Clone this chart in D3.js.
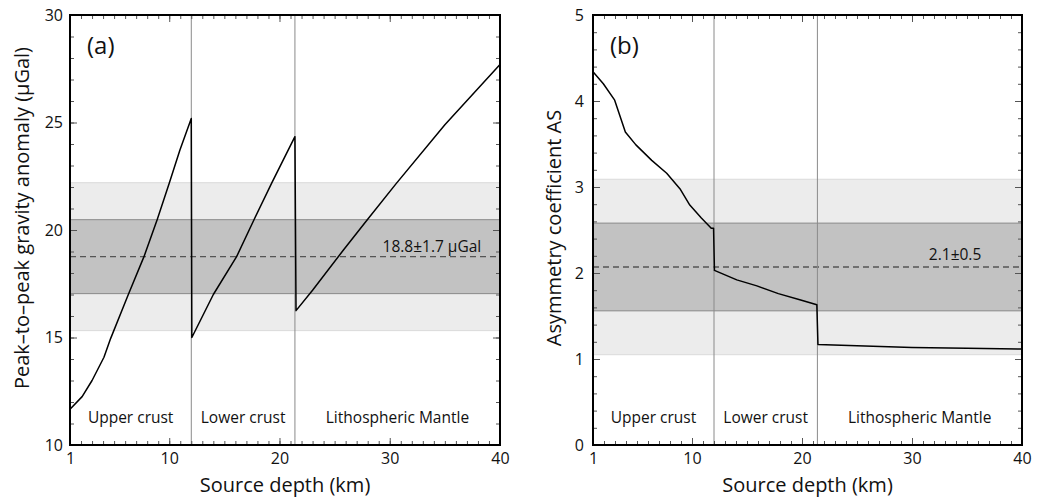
<!DOCTYPE html>
<html>
<head>
<meta charset="utf-8">
<script src="https://cdn.jsdelivr.net/npm/d3@7"></script>
<style>
  html, body { margin: 0; padding: 0; background: #fff; }
  svg { display: block; font-family: "Open Sans", "DejaVu Sans", sans-serif; }
</style>
</head>
<body>
<svg id="chart" width="1042" height="499"></svg>
<script>
// ---------- data ----------
const depthA   = [1, 2.1, 3, 4.08, 4.69, 6.29, 7.71, 8.92, 10.0, 10.97, 12.0,
                  12.05, 14.0, 16.11, 17.71, 19.28, 21.4,
                  21.5, 23, 25.8, 28, 30.6, 35, 40];
const gravityA = [11.66, 12.25, 13.0, 14.08, 14.96, 17.0, 18.76, 20.5, 22.17, 23.72, 25.19,
                  15.0, 17.0, 18.76, 20.5, 22.17, 24.34,
                  16.25, 17.2, 19.07, 20.5, 22.17, 24.9, 27.7];

const depthB = [1, 1.94, 2.97, 3.94, 4.9, 6.34, 7.7, 8.9, 9.8, 10.85, 11.75, 11.96,
                12.04, 14.07, 15.9, 17.85, 19.8, 21.35,
                21.45, 25, 30, 35, 40];
const asymB  = [4.34, 4.2, 4.01, 3.64, 3.49, 3.31, 3.16, 2.98, 2.79, 2.64, 2.52, 2.52,
                2.03, 1.92, 1.85, 1.76, 1.69, 1.63,
                1.17, 1.155, 1.135, 1.125, 1.116];

const layerBounds = [12, 21.4];
const layerNames  = ["Upper crust", "Lower crust", "Lithospheric Mantle"];
const layerRanges = [[1, 12], [12, 21.4], [21.4, 40]];

const xTickLabels = [1, 10, 20, 30, 40];
const yTicksA = [10, 15, 20, 25, 30];
const yTicksB = [0, 1, 2, 3, 4, 5];

// observed values: mean, sigma
const obsA = [18.76, 1.72];
const obsB = [2.07, 0.51];
const obsLabelA = "18.8±1.7 µGal";
const obsLabelB = "2.1±0.5";

// ---------- drawing ----------
const svg = d3.select("#chart");

function panel(opt) {
  const { left, right, top, bottom } = opt;
  const x = d3.scaleLinear().domain([1, 40]).range([left, right]);
  const y = d3.scaleLinear().domain(opt.yDomain).range([bottom, top]);
  const g = svg.append("g");

  const [m, s] = opt.obs;
  // light band (2 sigma)
  g.append("rect").attr("x", left).attr("width", right - left)
    .attr("y", y(m + 2 * s)).attr("height", y(m - 2 * s) - y(m + 2 * s))
    .attr("fill", "#ececec");
  g.selectAll(".lb").data([m + 2 * s, m - 2 * s]).join("line")
    .attr("x1", left).attr("x2", right).attr("y1", d => y(d)).attr("y2", d => y(d))
    .attr("stroke", "#dadada").attr("stroke-width", 1);
  // dark band (1 sigma)
  g.append("rect").attr("x", left).attr("width", right - left)
    .attr("y", y(m + s)).attr("height", y(m - s) - y(m + s))
    .attr("fill", "#c2c2c2");
  g.selectAll(".db").data([m + s, m - s]).join("line")
    .attr("x1", left).attr("x2", right).attr("y1", d => y(d)).attr("y2", d => y(d))
    .attr("stroke", "#8a8a8a").attr("stroke-width", 1);
  // dashed mean
  g.append("line").attr("x1", left).attr("x2", right)
    .attr("y1", y(m)).attr("y2", y(m))
    .attr("stroke", "#555").attr("stroke-width", 1.3).attr("stroke-dasharray", "6,4");

  // layer boundaries
  g.selectAll(".vb").data(layerBounds).join("line")
    .attr("x1", d => x(d)).attr("x2", d => x(d)).attr("y1", top).attr("y2", bottom)
    .attr("stroke", "#8a8a8a").attr("stroke-width", 1);

  // layer names
  g.selectAll(".ln").data(layerNames).join("text")
    .attr("x", (d, i) => (x(layerRanges[i][0]) + x(layerRanges[i][1])) / 2)
    .attr("y", bottom - 22)
    .attr("text-anchor", "middle").attr("font-size", 15.5).attr("fill", "#111")
    .text(d => d);

  // observed label
  g.append("text").attr("x", x(opt.obsLabelX)).attr("y", y(m) - opt.obsLabelDy)
    .attr("text-anchor", "end").attr("font-size", 15.5).attr("fill", "#111")
    .text(opt.obsLabel);

  // curve
  const pts = opt.xs.map((d, i) => [d, opt.ys[i]]);
  g.append("path").datum(pts)
    .attr("d", d3.line().x(d => x(d[0])).y(d => y(d[1])))
    .attr("fill", "none").attr("stroke", "#000").attr("stroke-width", 1.5)
    .attr("stroke-linejoin", "round");

  // axes (ticks inward on all four sides)
  const tickColor = "#555";
  function styleAxis(sel) {
    sel.select(".domain").remove();
    sel.selectAll(".tick line").attr("stroke", tickColor);
    sel.selectAll(".tick text").attr("fill", "#111").attr("font-size", 16)
      .attr("font-family", "\"Open Sans\", sans-serif");
  }
  // bottom
  g.append("g").attr("transform", `translate(0,${bottom})`)
    .call(d3.axisBottom(x).tickValues(d3.range(1, 41)).tickSize(-4).tickFormat(""))
    .call(styleAxis);
  g.append("g").attr("transform", `translate(0,${bottom})`)
    .call(d3.axisBottom(x).tickValues(xTickLabels).tickSize(-7).tickPadding(8).tickFormat(d3.format("d")))
    .call(styleAxis);
  // top
  g.append("g").attr("transform", `translate(0,${top})`)
    .call(d3.axisTop(x).tickValues(d3.range(1, 41)).tickSize(-4).tickFormat(""))
    .call(styleAxis);
  g.append("g").attr("transform", `translate(0,${top})`)
    .call(d3.axisTop(x).tickValues(xTickLabels).tickSize(-7).tickFormat(""))
    .call(styleAxis);
  // left
  g.append("g").attr("transform", `translate(${left},0)`)
    .call(d3.axisLeft(y).tickValues(opt.yMinor).tickSize(-4).tickFormat(""))
    .call(styleAxis);
  g.append("g").attr("transform", `translate(${left},0)`)
    .call(d3.axisLeft(y).tickValues(opt.yTicks).tickSize(-7).tickPadding(opt.yPad).tickFormat(d3.format("d")))
    .call(styleAxis);
  // right
  g.append("g").attr("transform", `translate(${right},0)`)
    .call(d3.axisRight(y).tickValues(opt.yMinor).tickSize(-4).tickFormat(""))
    .call(styleAxis);
  g.append("g").attr("transform", `translate(${right},0)`)
    .call(d3.axisRight(y).tickValues(opt.yTicks).tickSize(-7).tickFormat(""))
    .call(styleAxis);

  // frame
  g.append("rect").attr("x", left).attr("y", top)
    .attr("width", right - left).attr("height", bottom - top)
    .attr("fill", "none").attr("stroke", "#000").attr("stroke-width", 2);

  // panel letter
  g.append("text").attr("x", left + 17).attr("y", top + 39)
    .attr("font-size", 24).attr("fill", "#111").text(opt.letter);

  // axis titles
  g.append("text").attr("x", (left + right) / 2).attr("y", 492)
    .attr("text-anchor", "middle").attr("font-size", 20).attr("fill", "#111")
    .text("Source depth (km)");
  g.append("text")
    .attr("transform", `translate(${opt.yLabelX},${opt.yLabelY}) rotate(-90)`)
    .attr("text-anchor", "middle").attr("font-size", 20).attr("fill", "#111")
    .text(opt.yLabel);
}

panel({
  left: 70, right: 500, top: 15, bottom: 445,
  yDomain: [10, 30], yTicks: yTicksA, yMinor: d3.range(10, 31, 1), yPad: 7,
  xs: depthA, ys: gravityA, obs: obsA, obsLabel: obsLabelA, obsLabelX: 38.3, obsLabelDy: 5,
  letter: "(a)", yLabel: "Peak–to–peak gravity anomaly (µGal)", yLabelX: 29, yLabelY: 218
});

panel({
  left: 593, right: 1022, top: 15, bottom: 445,
  yDomain: [0, 5], yTicks: yTicksB, yMinor: d3.range(0, 5.01, 0.2), yPad: 9,
  xs: depthB, ys: asymB, obs: obsB, obsLabel: obsLabelB, obsLabelX: 36.3, obsLabelDy: 7,
  letter: "(b)", yLabel: "Asymmetry coefficient AS", yLabelX: 561, yLabelY: 228
});
</script>
</body>
</html>
